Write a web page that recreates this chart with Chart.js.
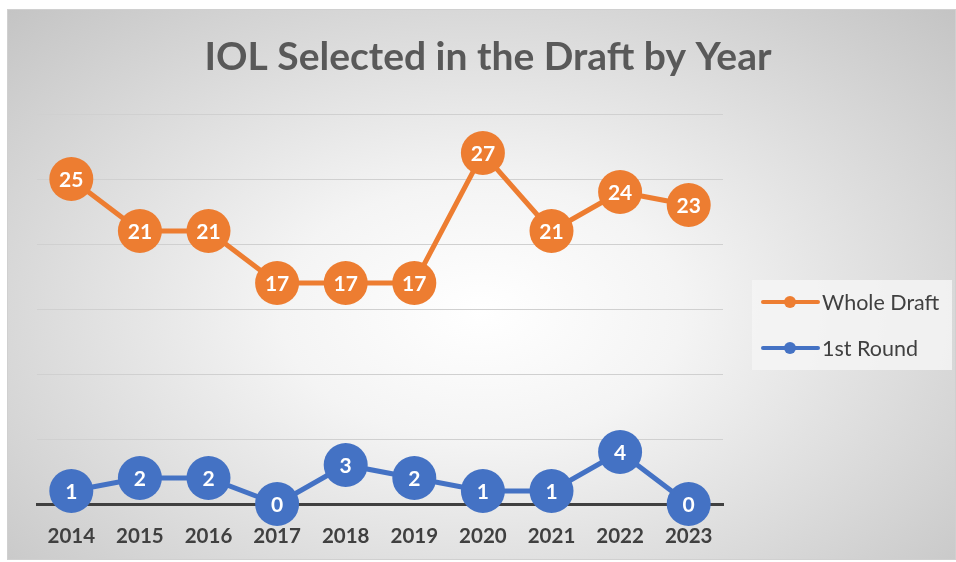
<!DOCTYPE html>
<html>
<head>
<meta charset="utf-8">
<script src="https://cdn.jsdelivr.net/npm/chart.js@4.4.0/dist/chart.umd.min.js"></script>
<style>
  html, body { margin: 0; padding: 0; background: #fff; }
  #wrap {
    position: absolute; left: 7px; top: 9px; width: 947px; height: 549px;
    background: radial-gradient(ellipse farthest-corner at 50% 55%, #ffffff 0%, #f4f4f4 30%, #c4c4c4 100%);
    border: 1px solid #d0d0d0;
  }
  #chart { position: absolute; left: 0; top: 0; }
</style>
</head>
<body>
<div id="wrap"></div>
<canvas id="chart" width="956" height="562"></canvas>
<script>
const years = ['2014', '2015', '2016', '2017', '2018', '2019', '2020', '2021', '2022', '2023']
const wholeDraft = [25, 21, 21, 17, 17, 17, 27, 21, 24, 23]
const firstRound = [1, 2, 2, 0, 3, 2, 1, 1, 4, 0]
const titleText = 'IOL Selected in the Draft by Year'

const orange = '#ED7D31'
const blue = '#4472C4'
const textColor = '#404040'
const fontFamily = "Lato, 'Open Sans', sans-serif"

// white value labels inside the markers
const valueLabels = {
  id: 'valueLabels',
  afterDatasetsDraw(chart) {
    const ctx = chart.ctx
    ctx.save()
    ctx.font = `bold 21px ${fontFamily}`
    ctx.fillStyle = '#ffffff'
    ctx.textAlign = 'center'
    ctx.textBaseline = 'middle'
    chart.data.datasets.forEach((ds, i) => {
      chart.getDatasetMeta(i).data.forEach((pt, j) => {
        ctx.fillText(ds.data[j], pt.x, pt.y + 1)
      })
    })
    ctx.restore()
  }
}

// title + boxed legend on the right
const decorations = {
  id: 'decorations',
  afterDraw(chart) {
    const ctx = chart.ctx
    ctx.save()
    ctx.font = `bold 39px ${fontFamily}`
    ctx.fillStyle = '#595959'
    ctx.textAlign = 'center'
    ctx.textBaseline = 'middle'
    ctx.fillText(titleText, 488, 57)

    ctx.fillStyle = 'rgba(245,245,245,0.85)'
    ctx.fillRect(752, 280, 200, 90)
    ctx.font = `21.5px ${fontFamily}`
    ctx.textAlign = 'left'
    chart.data.datasets.forEach((ds, i) => {
      const y = 302 + i * 46
      ctx.strokeStyle = ds.borderColor
      ctx.lineWidth = 4
      ctx.lineCap = 'round'
      ctx.beginPath()
      ctx.moveTo(763, y)
      ctx.lineTo(818, y)
      ctx.stroke()
      ctx.fillStyle = ds.borderColor
      ctx.beginPath()
      ctx.arc(790, y, 6, 0, Math.PI * 2)
      ctx.fill()
      ctx.fillStyle = textColor
      ctx.fillText(ds.label, 822, y + 1)
    })
    ctx.restore()
  }
}

new Chart(document.getElementById('chart').getContext('2d'), {
  type: 'line',
  data: {
    labels: years,
    datasets: [
      {
        label: 'Whole Draft',
        data: wholeDraft,
        borderColor: orange,
        backgroundColor: orange,
        borderWidth: 5,
        tension: 0,
        pointRadius: 22,
        pointHoverRadius: 22,
        pointBorderWidth: 0,
        clip: false
      },
      {
        label: '1st Round',
        data: firstRound,
        borderColor: blue,
        backgroundColor: blue,
        borderWidth: 5,
        tension: 0,
        pointRadius: 22,
        pointHoverRadius: 22,
        pointBorderWidth: 0,
        clip: false
      }
    ]
  },
  options: {
    responsive: false,
    animation: false,
    layout: { padding: { left: 37, right: 233, top: 114, bottom: 0 } },
    plugins: {
      legend: { display: false },
      title: { display: false },
      tooltip: { enabled: false }
    },
    scales: {
      x: {
        offset: true,
        grid: { display: false, drawTicks: false },
        border: { display: true, color: '#404040', width: 3, z: -1 },
        ticks: {
          color: textColor,
          padding: 20,
          font: { family: fontFamily, size: 20.5, weight: 'bold' }
        },
        afterFit: s => { s.height = 58 }
      },
      y: {
        min: 0,
        max: 30,
        ticks: { display: false, stepSize: 5 },
        grid: {
          color: c => c.tick && c.tick.value === 0 ? 'rgba(0,0,0,0)' : '#d0d0d0',
          lineWidth: 1,
          drawTicks: false
        },
        border: { display: false },
        afterFit: s => { s.width = 0 }
      }
    }
  },
  plugins: [valueLabels, decorations]
})
</script>
</body>
</html>
